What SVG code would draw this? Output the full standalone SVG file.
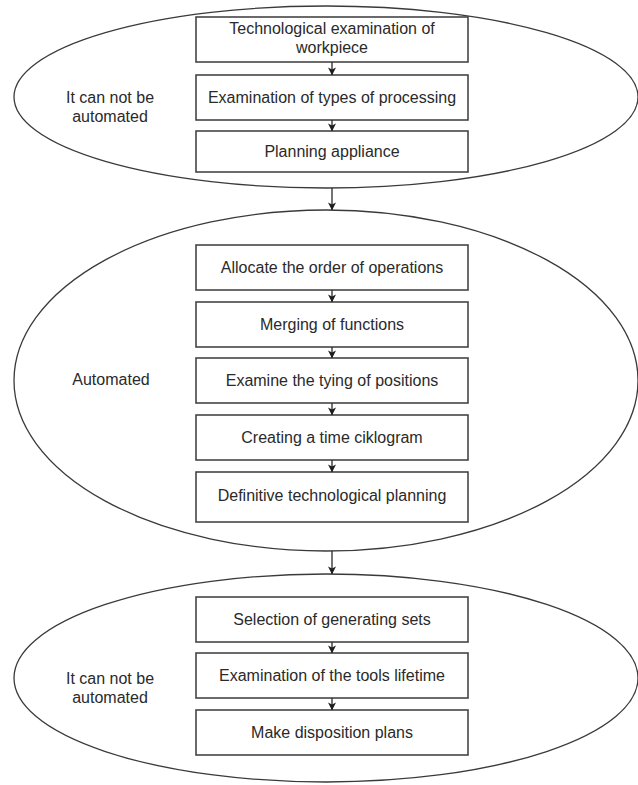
<svg xmlns="http://www.w3.org/2000/svg" width="638" height="785" viewBox="0 0 638 785">
  <style>
    .zone { fill: none; stroke: #3a3a3a; stroke-width: 1.3; }
    .box rect { fill: #ffffff; stroke: #3a3a3a; stroke-width: 1.5; }
    text { font-family: "Liberation Sans", Arial, sans-serif; font-size: 16px; fill: #2a2a2a; text-anchor: middle; }
    .link { fill: none; stroke: #2a2a2a; stroke-width: 1.3; marker-end: url(#head); }
  </style>
  <defs>
    <marker id="head" viewBox="0 0 10 10" refX="9.5" refY="5" markerWidth="8" markerHeight="8" markerUnits="userSpaceOnUse" orient="auto">
      <path d="M0,0 L10,5 L0,10 L2.5,5 z" fill="#1e1e1e"/>
    </marker>
  </defs>
  <rect width="638" height="785" fill="#ffffff"/>

  <!-- stage 1: manual -->
  <g id="stage-manual-1">
    <ellipse class="zone" cx="326" cy="97" rx="312" ry="91"/>
    <text x="110" y="103">It can not be</text>
    <text x="110" y="122">automated</text>
  </g>
  <g id="n-workpiece" class="box">
    <rect x="196" y="17" width="272" height="45"/>
    <text x="332" y="34">Technological examination of</text>
    <text x="332" y="53">workpiece</text>
  </g>
  <g id="n-processing" class="box">
    <rect x="196" y="75" width="272" height="45"/>
    <text x="332" y="103">Examination of types of processing</text>
  </g>
  <g id="n-appliance" class="box">
    <rect x="196" y="131" width="272" height="41"/>
    <text x="332" y="157">Planning appliance</text>
  </g>

  <!-- stage 2: automated -->
  <g id="stage-automated">
    <ellipse class="zone" cx="326" cy="380.5" rx="312" ry="170.5"/>
    <text x="111" y="385">Automated</text>
  </g>
  <g id="n-order" class="box">
    <rect x="196" y="245" width="272" height="45"/>
    <text x="332" y="273">Allocate the order of operations</text>
  </g>
  <g id="n-merging" class="box">
    <rect x="196" y="302" width="272" height="45"/>
    <text x="332" y="330">Merging of functions</text>
  </g>
  <g id="n-tying" class="box">
    <rect x="196" y="358" width="272" height="45"/>
    <text x="332" y="386">Examine the tying of positions</text>
  </g>
  <g id="n-ciklogram" class="box">
    <rect x="196" y="415" width="272" height="45"/>
    <text x="332" y="443">Creating a time ciklogram</text>
  </g>
  <g id="n-definitive" class="box">
    <rect x="196" y="472" width="272" height="50"/>
    <text x="332" y="501">Definitive technological planning</text>
  </g>

  <!-- stage 3: manual -->
  <g id="stage-manual-2">
    <ellipse class="zone" cx="326" cy="678" rx="312" ry="104"/>
    <text x="110" y="684">It can not be</text>
    <text x="110" y="703">automated</text>
  </g>
  <g id="n-sets" class="box">
    <rect x="196" y="597" width="272" height="45"/>
    <text x="332" y="625">Selection of generating sets</text>
  </g>
  <g id="n-lifetime" class="box">
    <rect x="196" y="653" width="272" height="45"/>
    <text x="332" y="681">Examination of the tools lifetime</text>
  </g>
  <g id="n-disposition" class="box">
    <rect x="196" y="710" width="272" height="45"/>
    <text x="332" y="738">Make disposition plans</text>
  </g>

  <!-- connectors -->
  <g id="connectors">
    <path class="link" d="M332,62 V75"/>
    <path class="link" d="M332,120 V131"/>
    <path class="link" d="M332,188 V210"/>
    <path class="link" d="M332,290 V302"/>
    <path class="link" d="M332,347 V358"/>
    <path class="link" d="M332,403 V415"/>
    <path class="link" d="M332,460 V472"/>
    <path class="link" d="M332,551 V574"/>
    <path class="link" d="M332,642 V653"/>
    <path class="link" d="M332,698 V710"/>
  </g>
</svg>
